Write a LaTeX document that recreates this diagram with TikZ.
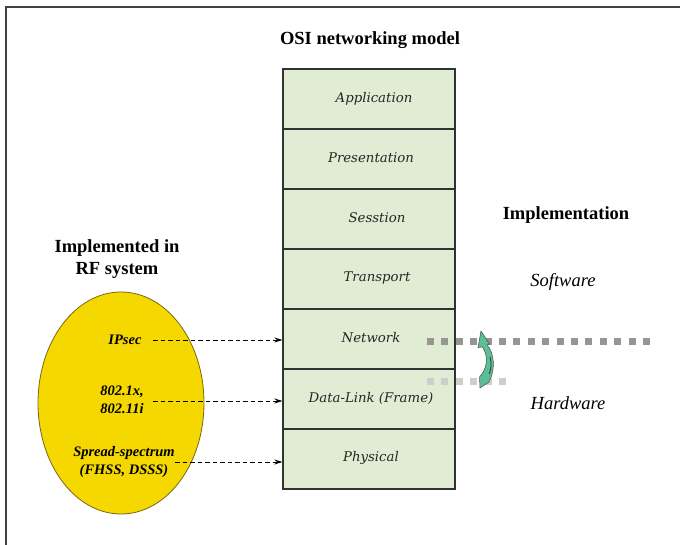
\documentclass[tikz,border=0pt]{standalone}
\usepackage{fontspec}
\setmainfont{Liberation Serif}
\newfontfamily\layerfont{DejaVu Serif}
\usetikzlibrary{arrows.meta}

\definecolor{layerfill}{RGB}{224,236,212}
\definecolor{layerline}{RGB}{50,50,50}
\definecolor{rfyellow}{RGB}{245,216,0}
\definecolor{rfedge}{RGB}{120,104,20}
\definecolor{swline}{RGB}{152,148,144}
\definecolor{hwline}{RGB}{208,206,204}
\definecolor{turngreen}{RGB}{92,190,150}

\tikzset{
  layer/.style={draw=layerline, line width=1.1pt, fill=layerfill,
    minimum width=172pt, minimum height=60pt, inner sep=0pt},
  layertext/.style={inner sep=0pt, text=black!85,
    font=\layerfont\itshape\fontsize{13.3}{15}\selectfont},
  heading/.style={font=\bfseries\fontsize{18.5}{22}\selectfont, align=center},
  sidelabel/.style={font=\itshape\fontsize{18.5}{22}\selectfont},
  rflabel/.style={font=\bfseries\itshape\fontsize{14.5}{17.5}\selectfont,
    align=center, inner sep=1pt},
  maps/.style={line width=1pt, dash pattern=on 4.5pt off 3pt,
    -{Stealth[length=8pt,width=5pt]}},
  boundary/.style={line width=7pt, dash pattern=on 7pt off 7.4pt}
}

\begin{document}
\begin{tikzpicture}[x=1pt,y=-1pt]
  \useasboundingbox (0,0) rectangle (680,545);

  % open frame (top and left edges)
  \draw[line width=1.4pt, black!75] (6,560) -- (6,7) -- (700,7);

  % title
  \node[heading] (title) at (370,40) {OSI networking model};

  % the seven OSI layers
  \node[layer] (app)  at (369,99)  {};
  \node[layer] (pres) at (369,159) {};
  \node[layer] (sess) at (369,219) {};
  \node[layer] (tran) at (369,279) {};
  \node[layer] (net)  at (369,339) {};
  \node[layer] (dl)   at (369,399) {};
  \node[layer] (phy)  at (369,459) {};
  \node[layertext] (appT)  at (374,99)  {Application};
  \node[layertext] (presT) at (371,158) {Presentation};
  \node[layertext] (sessT) at (377,218) {Sesstion};
  \node[layertext] (tranT) at (377,278) {Transport};
  \node[layertext] (netT)  at (371,338) {Network};
  \node[layertext] (dlT)   at (371,398) {Data-Link (Frame)};
  \node[layertext] (phyT)  at (371,458) {Physical};

  % RF system side
  \node[heading] (rfhead) at (117,259) {Implemented in\\RF system};
  \draw[rfedge, line width=0.8pt, fill=rfyellow] (121,403) ellipse [x radius=83, y radius=111];
  \node[rflabel] (ipsec) at (125,340) {IPsec};
  \node[rflabel] (dot1x) at (122,400) {802.1x,\\802.11i};
  \node[rflabel] (ss)    at (124,462) {Spread-spectrum\\(FHSS, DSSS)};

  \coordinate (ipsecS) at (153,340);
  \coordinate (dot1xS) at (153,401);
  \coordinate (ssS)    at (175,462);
  \draw[maps] (ipsecS) -- (ipsecS -| net.west);
  \draw[maps] (dot1xS) -- (dot1xS -| dl.west);
  \draw[maps] (ssS)    -- (ssS -| phy.west);

  % implementation side
  \node[heading] (impl) at (566,215) {Implementation};
  \node[sidelabel] (sw) at (563,282) {Software};
  \node[sidelabel] (hw) at (568,403) {Hardware};

  % software / hardware boundaries
  \coordinate (swA) at (427,341);
  \coordinate (swB) at (656,341);
  \coordinate (hwA) at (427,381);
  \coordinate (hwB) at (508,381);
  \draw[boundary, swline] (swA) -- (swB);
  \draw[boundary, hwline] (hwA) -- (hwB);

  % curved arrow crossing the boundary
  \filldraw[fill=turngreen, draw=black!70, line width=0.5pt]
    (481,331) -- (489.5,344) -- (487,345)
    .. controls (494,352) and (496,369) .. (489,382)
    -- (480,388) -- (479.5,377)
    .. controls (487,369) and (489,357) .. (482.5,347)
    -- (478,347.5) -- cycle;
  \draw[black!80, line width=0.8pt] (490,357) .. controls (492,364) and (491,370) .. (489,374);
\end{tikzpicture}
\end{document}
